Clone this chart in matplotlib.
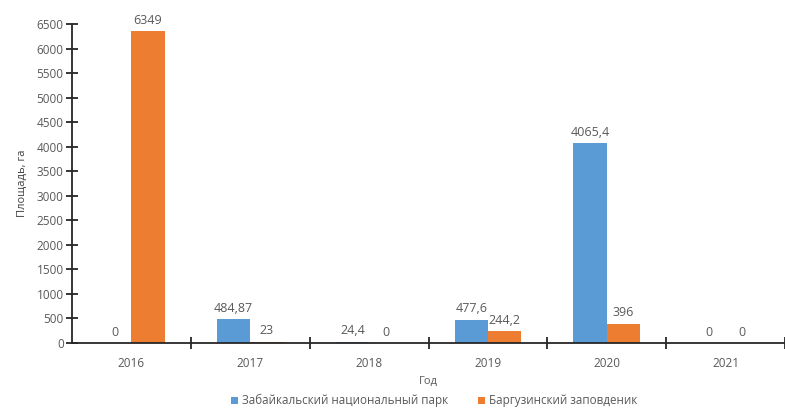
import matplotlib.pyplot as plt
import numpy as np

plt.rcParams['font.family'] = ['Open Sans', 'DejaVu Sans']

years = ['2016', '2017', '2018', '2019', '2020', '2021']
zabaikal = [0, 484.87, 24.4, 477.6, 4065.4, 0]
barguzin = [6349, 23, 0, 244.2, 396, 0]
zab_labels = ['0', '484,87', '24,4', '477,6', '4065,4', '0']
bar_labels = ['6349', '23', '0', '244,2', '396', '0']

blue = '#5B9BD5'
orange = '#ED7D31'
grey = '#595959'

fig = plt.figure(figsize=(7.85, 4.13), dpi=100)
ax = fig.add_axes([72 / 785, 70 / 413, 713 / 785, 319 / 413])

x = np.arange(len(years))
w = 0.28
b1 = ax.bar(x - w / 2, zabaikal, w, color=blue, label='Забайкальский национальный парк')
b2 = ax.bar(x + w / 2, barguzin, w, color=orange, label='Баргузинский заповденик')

for rect, lab in zip(b1, zab_labels):
    ax.text(rect.get_x() + rect.get_width() / 2, rect.get_height() + 90, lab,
            ha='center', va='bottom', fontsize=9, color=grey)
for rect, lab in zip(b2, bar_labels):
    ax.text(rect.get_x() + rect.get_width() / 2, rect.get_height() + 90, lab,
            ha='center', va='bottom', fontsize=9, color=grey)

ax.set_ylim(0, 6500)
ax.set_yticks(np.arange(0, 6501, 500))
ax.set_xlim(-0.5, -0.5 + 713 / 119.6)
ax.set_xticks(x)
ax.set_xticklabels(years)
ax.set_xticks(np.arange(0.5, 5.6, 1), minor=True)

for s in ['top', 'right']:
    ax.spines[s].set_visible(False)
for s in ['left', 'bottom']:
    ax.spines[s].set_color('#262626')
    ax.spines[s].set_linewidth(1.3)

ax.tick_params(axis='y', direction='inout', length=8, width=1.3, color='#262626',
               labelsize=8.5, labelcolor=grey, pad=2)
ax.tick_params(axis='x', which='major', length=0, labelsize=8.5, labelcolor=grey, pad=10)
ax.tick_params(axis='x', which='minor', direction='inout', length=8, width=1.3, color='#262626')

ax.set_ylabel('Площадь, га', fontsize=8, color='#404040', labelpad=6)
ax.set_xlabel('Год', fontsize=8, color=grey, labelpad=4)

fig.legend(loc='lower center', bbox_to_anchor=(0.553, -0.012), ncol=2, frameon=False,
           fontsize=8.4, labelcolor=grey, handlelength=0.6, handleheight=0.6,
           handletextpad=0.3, columnspacing=2.6)

fig.savefig('out.png', dpi=100)
